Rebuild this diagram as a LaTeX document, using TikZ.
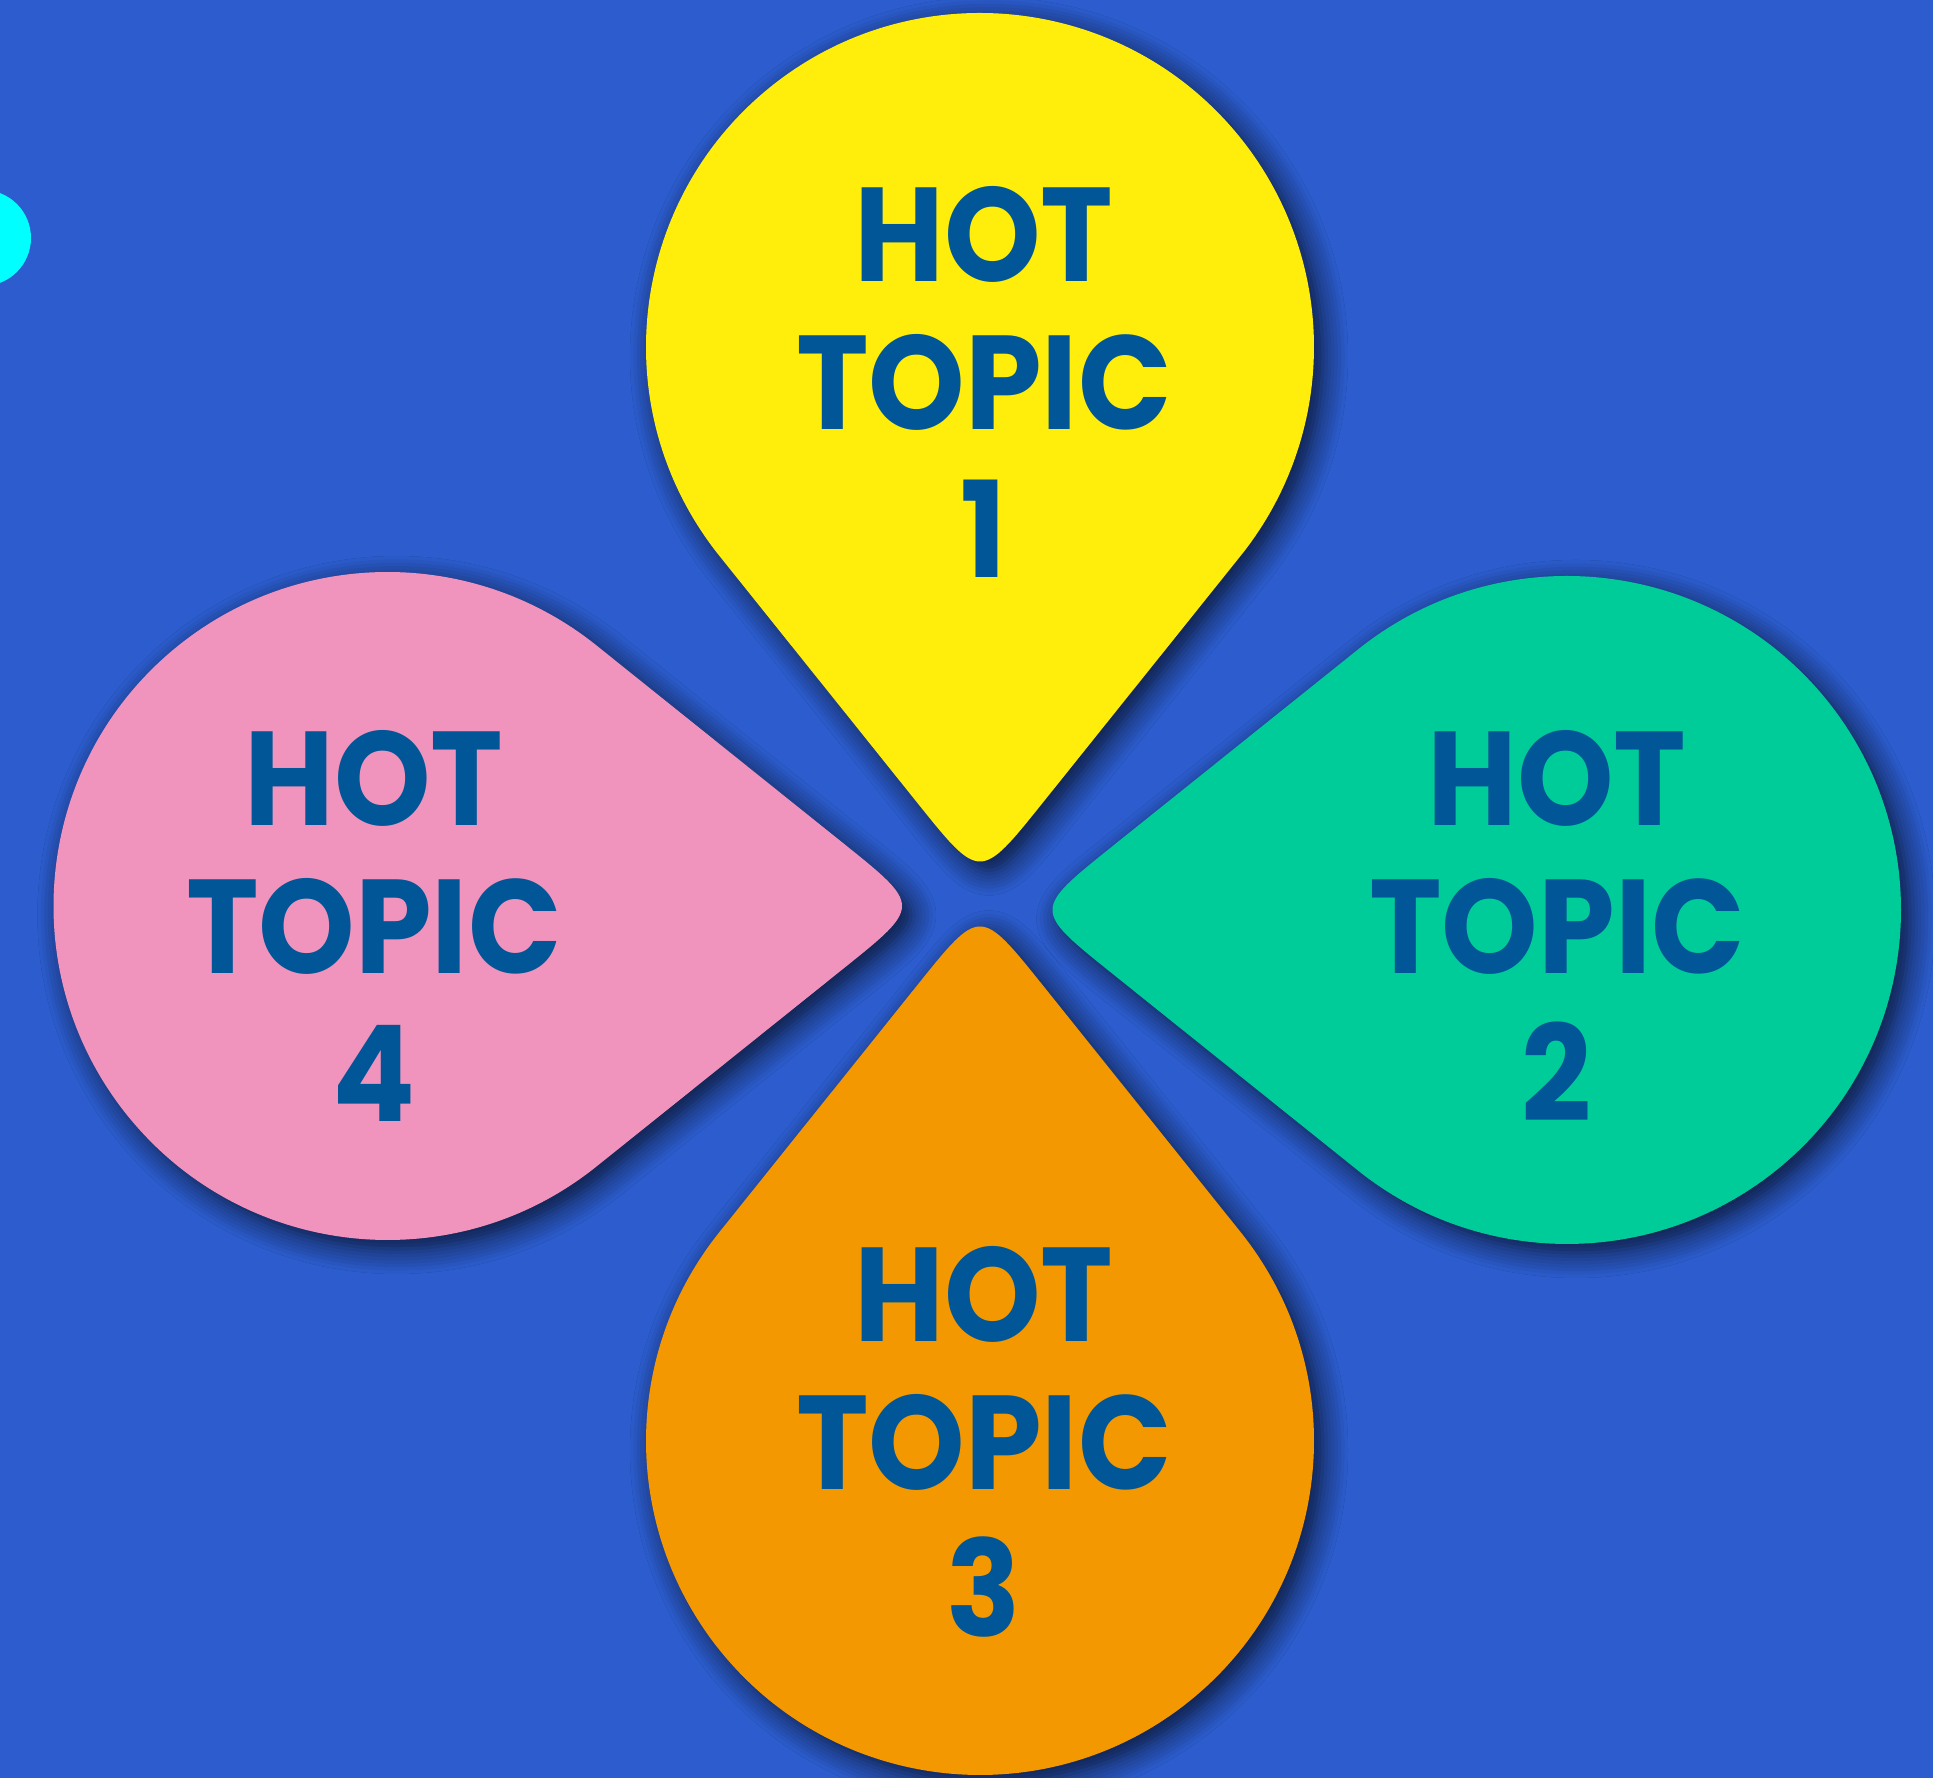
\documentclass[tikz,border=0pt]{standalone}
\usepackage{fontspec}
\setmainfont{Poppins}[FakeStretch=0.92]
\usetikzlibrary{calc,shadows.blur}
\definecolor{bgblue}{HTML}{2C5CCD}
\definecolor{topicblue}{HTML}{005696}
\definecolor{petalyellow}{HTML}{FFEE0C}
\definecolor{petalgreen}{HTML}{00CC9A}
\definecolor{petalorange}{HTML}{F39800}
\definecolor{petalpink}{HTML}{F194BD}
\definecolor{dotcyan}{HTML}{00FFFF}
\tikzset{
  petal/.style={fill=#1, blur shadow={shadow xshift=0.09cm, shadow yshift=-0.09cm, shadow blur radius=0.25cm, shadow blur steps=8, shadow opacity=75}},
  topic/.style={text=topicblue, font=\bfseries\fontsize{38}{42}\selectfont, align=center}
}
\begin{document}
\begin{tikzpicture}
\clip (0,0) rectangle (19.33,17.78);
\fill[bgblue] (0,0) rectangle (19.33,17.78);
\fill[dotcyan] (-0.17,15.40) circle (0.48);
% the four drops, each pointing at the middle
\foreach \cx/\cy/\a/\col in {9.80/14.31/90/petalyellow, 15.67/8.68/0/petalgreen, 9.80/3.37/270/petalorange, 3.875/8.72/180/petalpink}{
  \pgfmathsetmacro\sa{\a+128.72}
  \coordinate (c) at (\cx,\cy);
  \coordinate (tip) at ($(c)+(\a+180:5.34)$);
  \coordinate (r) at ($(c)+(\a-128.72:3.34)$);
  \coordinate (l) at ($(c)+(\a+128.72:3.34)$);
  \fill[petal=\col] (r) -- ($(tip)+(\a-38.72:1.0)$) .. controls (tip) .. ($(tip)+(\a+38.72:1.0)$) -- (l) arc[start angle=\sa, delta angle=-257.44, radius=3.34] -- cycle;
}
\node[topic] (t1) at (9.84,13.96) {HOT\\TOPIC\\1};
\node[topic] (t2) at (15.57,8.52) {HOT\\TOPIC\\2};
\node[topic] (t3) at (9.84,3.36) {HOT\\TOPIC\\3};
\node[topic] (t4) at (3.74,8.52) {HOT\\TOPIC\\4};
\end{tikzpicture}
\end{document}
